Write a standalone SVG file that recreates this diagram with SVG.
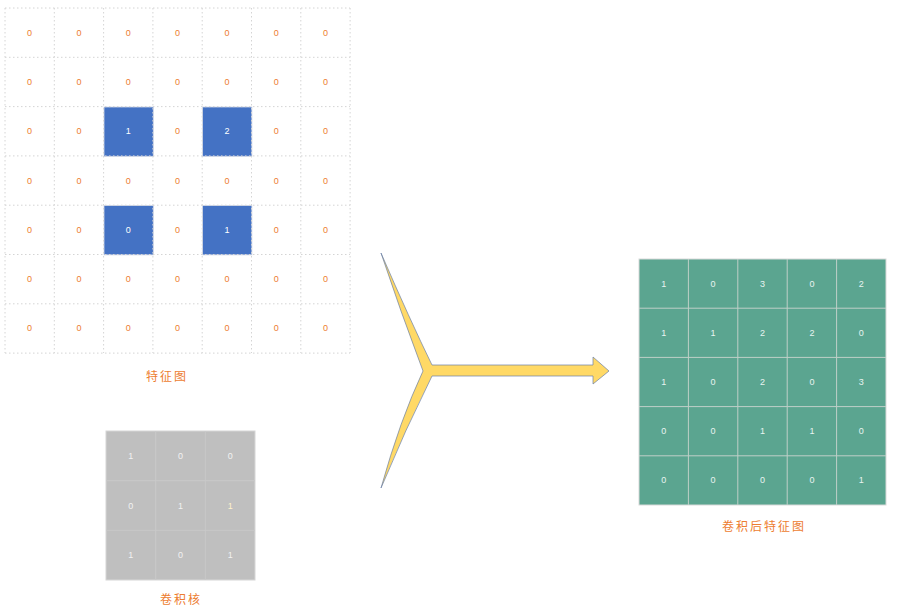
<svg xmlns="http://www.w3.org/2000/svg" width="915" height="606" viewBox="0 0 915 606">
<style>
.num{font-family:"Liberation Sans",Arial,sans-serif;font-size:9px;text-anchor:middle;dominant-baseline:central}
.o{fill:#ED7D31}
.w{fill:#FFFFFF}
.k{fill:#F2F2F2}
.g{fill:#E8F4F0}
.lbl{font-family:"Noto Sans CJK SC",sans-serif;font-size:12px;fill:#ED7D31;text-anchor:middle;letter-spacing:2px}
.dot{stroke:#D4D4D4;stroke-width:1;stroke-dasharray:1.5 2.5;fill:none}
.blue{fill:#4472C4;stroke:#D0D8E8;stroke-width:0.8}
</style>
<rect width="915" height="606" fill="#FFFFFF"/>
<g id="feature-map">
<rect x="104" y="107" width="49.3" height="49.3" class="blue"/>
<rect x="202.6" y="107" width="49.3" height="49.3" class="blue"/>
<rect x="104" y="205.6" width="49.3" height="49.3" class="blue"/>
<rect x="202.6" y="205.6" width="49.3" height="49.3" class="blue"/>
<path class="dot" d="M5 8V353M54.3 8V353M103.6 8V353M152.9 8V353M202.2 8V353M251.5 8V353M300.8 8V353M350.1 8V353M5 8H350M5 57.3H350M5 106.6H350M5 155.9H350M5 205.2H350M5 254.5H350M5 303.8H350M5 353.1H350"/>
<g class="num o">
<text x="29.6" y="32.6">0</text><text x="79" y="32.6">0</text><text x="128.3" y="32.6">0</text><text x="177.6" y="32.6">0</text><text x="226.9" y="32.6">0</text><text x="276.2" y="32.6">0</text><text x="325.5" y="32.6">0</text>
<text x="29.6" y="81.9">0</text><text x="79" y="81.9">0</text><text x="128.3" y="81.9">0</text><text x="177.6" y="81.9">0</text><text x="226.9" y="81.9">0</text><text x="276.2" y="81.9">0</text><text x="325.5" y="81.9">0</text>
<text x="29.6" y="131.2">0</text><text x="79" y="131.2">0</text><text x="177.6" y="131.2">0</text><text x="276.2" y="131.2">0</text><text x="325.5" y="131.2">0</text>
<text x="29.6" y="180.5">0</text><text x="79" y="180.5">0</text><text x="128.3" y="180.5">0</text><text x="177.6" y="180.5">0</text><text x="226.9" y="180.5">0</text><text x="276.2" y="180.5">0</text><text x="325.5" y="180.5">0</text>
<text x="29.6" y="229.8">0</text><text x="79" y="229.8">0</text><text x="177.6" y="229.8">0</text><text x="276.2" y="229.8">0</text><text x="325.5" y="229.8">0</text>
<text x="29.6" y="279.1">0</text><text x="79" y="279.1">0</text><text x="128.3" y="279.1">0</text><text x="177.6" y="279.1">0</text><text x="226.9" y="279.1">0</text><text x="276.2" y="279.1">0</text><text x="325.5" y="279.1">0</text>
<text x="29.6" y="328.4">0</text><text x="79" y="328.4">0</text><text x="128.3" y="328.4">0</text><text x="177.6" y="328.4">0</text><text x="226.9" y="328.4">0</text><text x="276.2" y="328.4">0</text><text x="325.5" y="328.4">0</text>
</g>
<g class="num w">
<text x="128.3" y="131.2">1</text><text x="226.9" y="131.2">2</text>
<text x="128.3" y="229.8">0</text><text x="226.9" y="229.8">1</text>
</g>
<text x="167" y="381" class="lbl">特征图</text>
</g>
<g id="kernel">
<rect x="106" y="431" width="149" height="149" fill="#BFBFBF" stroke="#D6D6D6" stroke-width="1"/>
<path d="M155.7 431V580M205.3 431V580M106 480.7H255M106 530.3H255" stroke="#C9C9C9" stroke-width="1" fill="none"/>
<g class="num k">
<text x="130.8" y="456">1</text><text x="180.5" y="456">0</text><text x="230.2" y="456">0</text>
<text x="130.8" y="505.5">0</text><text x="180.5" y="505.5">1</text><text x="230.2" y="505.5" fill="#FFF2CC" style="fill:#FFF2CC">1</text>
<text x="130.8" y="555.2">1</text><text x="180.5" y="555.2">0</text><text x="230.2" y="555.2">1</text>
</g>
<text x="181" y="604" class="lbl">卷积核</text>
</g>
<g id="connectors">
<path d="M381 253 Q410 320 432 365 L593 365 L593 357 L609 371 L593 384 L593 376 L432 376 Q405 430 381 488 Q400 420 423 371 Q400 310 381 253 Z" fill="#FFD966" stroke="#6A7FA8" stroke-width="0.7"/>
</g>
<g id="output-map">
<rect x="639" y="259" width="247" height="246" fill="#5BA590" stroke="#D9D9D9" stroke-width="1"/>
<path d="M688.4 259V505M737.8 259V505M787.2 259V505M836.6 259V505M639 308.2H886M639 357.4H886M639 406.6H886M639 455.8H886" stroke="#BFCFC8" stroke-width="1" fill="none"/>
<g class="num g">
<text x="663.7" y="283.6">1</text><text x="713.1" y="283.6">0</text><text x="762.5" y="283.6">3</text><text x="811.9" y="283.6">0</text><text x="861.3" y="283.6">2</text>
<text x="663.7" y="332.8">1</text><text x="713.1" y="332.8">1</text><text x="762.5" y="332.8">2</text><text x="811.9" y="332.8">2</text><text x="861.3" y="332.8">0</text>
<text x="663.7" y="382">1</text><text x="713.1" y="382">0</text><text x="762.5" y="382">2</text><text x="811.9" y="382">0</text><text x="861.3" y="382">3</text>
<text x="663.7" y="431.2">0</text><text x="713.1" y="431.2">0</text><text x="762.5" y="431.2">1</text><text x="811.9" y="431.2">1</text><text x="861.3" y="431.2">0</text>
<text x="663.7" y="480.4">0</text><text x="713.1" y="480.4">0</text><text x="762.5" y="480.4">0</text><text x="811.9" y="480.4">0</text><text x="861.3" y="480.4">1</text>
</g>
<text x="764" y="531" class="lbl">卷积后特征图</text>
</g>
</svg>
